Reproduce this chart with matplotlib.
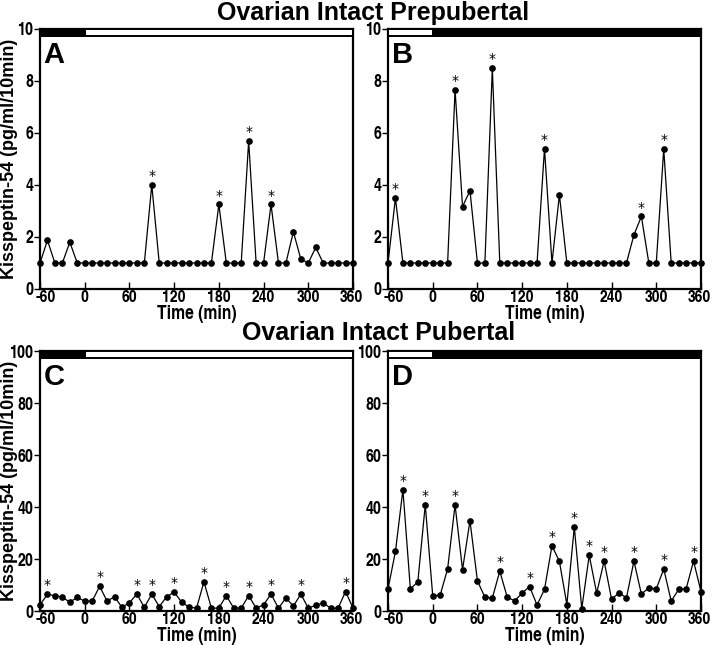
import matplotlib
matplotlib.use("Agg")
import matplotlib.pyplot as plt
import matplotlib.transforms as mtransforms
from matplotlib.patches import Rectangle
import numpy as np
import logging
logging.getLogger('matplotlib.font_manager').setLevel(logging.ERROR)

# ---------------- data ----------------
time_min = list(range(-60, 361, 10))
x_ticks = [-60, 0, 60, 120, 180, 240, 300, 360]
x_tick_labels = ['-60', '0', '60', '120', '180', '240', '300', '360']
top_yticks = [0, 2, 4, 6, 8, 10]
bot_yticks = [0, 20, 40, 60, 80, 100]

panel_a = [1.0, 1.87, 1, 1, 1.8, 1, 1, 1, 1, 1, 1, 1, 1, 1, 1, 4.0, 1, 1, 1, 1, 1, 1,
           1, 1, 3.25, 1, 1, 1, 5.69, 1, 1, 3.25, 1, 1, 2.2, 1.15, 1.0, 1.6, 1, 1, 1, 1, 1]
panel_a_pulses = [90, 180, 220, 250]

panel_b = [1, 3.5, 1, 1, 1, 1, 1, 1, 1, 7.66, 3.17, 3.78, 1, 1, 8.49, 1, 1, 1, 1, 1, 1,
           5.4, 1, 3.62, 1, 1, 1, 1, 1, 1, 1, 1, 1, 2.08, 2.79, 1, 1, 5.38, 1, 1, 1, 1, 1]
panel_b_pulses = [-50, 30, 80, 150, 280, 310]

panel_c = [2.4, 6.4, 5.9, 5.3, 3.4, 5.2, 3.8, 3.8, 9.5, 3.8, 5.5, 1.4, 3.2, 6.5, 1.4,
           6.5, 1.7, 5.5, 7.3, 3.4, 1.5, 1.1, 11.2, 1.1, 1.1, 5.9, 1.1, 1.1, 5.9, 1.1,
           2.4, 6.5, 1.1, 5.0, 1.9, 6.5, 1.1, 2.2, 3.1, 1.1, 1.1, 7.5, 1.1]
panel_c_pulses = [-50, 20, 70, 90, 120, 160, 190, 220, 250, 290, 350]

panel_d = [8.5, 22.9, 46.6, 8.5, 11.2, 40.8, 5.9, 6.1, 16.2, 40.8, 15.9, 34.7, 11.6,
           5.3, 5.0, 15.3, 5.3, 3.9, 6.9, 9.4, 2.3, 8.3, 25.1, 19.1, 2.5, 32.3, 0.9,
           21.4, 6.9, 19.2, 4.6, 6.9, 5.1, 19.2, 6.5, 8.9, 8.5, 16.2, 3.8, 8.3, 8.5,
           19.2, 7.5]
panel_d_pulses = [-40, -10, 30, 90, 130, 160, 190, 210, 230, 270, 310, 350]

title_top = "Ovarian Intact Prepubertal"
title_bottom = "Ovarian Intact Pubertal"
ylabel = "Kisspeptin-54 (pg/ml/10min)"
xlabel = "Time (min)"

# dark phase (black segment of the light/dark bar)
dark_ac = (-60, 0)
dark_bd = (0, 360)

# ---------------- style ----------------
COND = ['Nimbus Sans Narrow', 'TeX Gyre Heros Cn', 'Roboto Condensed',
        'Asap Condensed', 'Liberation Sans', 'DejaVu Sans']
REG = ['Liberation Sans', 'DejaVu Sans']
plt.rcParams['font.family'] = COND
plt.rcParams['font.weight'] = 'bold'
plt.rcParams['axes.unicode_minus'] = False

W, H = 714, 645
fig = plt.figure(figsize=(W / 100, H / 100), dpi=100)


def ax_at(left, top, right, bottom):
    return fig.add_axes([left / W, 1 - bottom / H, (right - left) / W, (bottom - top) / H])


def draw_panel(ax, values, pulses, ymax, yticks, letter, dark, show_ylabel):
    t = np.array(time_min)
    v = np.array(values)
    ax.plot(t, v, color='black', lw=0.9, marker='o', markersize=3.8,
            markerfacecolor='black', markeredgecolor='black', clip_on=False, zorder=3)
    for p in pulses:
        idx = time_min.index(p)
        ax.annotate('*', (p, values[idx]), xytext=(0, 3.5), textcoords='offset points',
                    ha='center', va='baseline', fontsize=10, family='DejaVu Sans',
                    fontweight='normal')
    ax.set_xlim(-60, 360)
    ax.set_ylim(0, ymax)
    ax.set_xticks(x_ticks)
    ax.set_xticklabels(x_tick_labels)
    ax.set_yticks(yticks)
    ax.tick_params(axis='x', direction='in', length=5, width=1, labelsize=12.2, pad=0.5)
    ax.tick_params(axis='y', direction='out', length=4, width=1, labelsize=12.5, pad=1)
    for lab in ax.get_xticklabels() + ax.get_yticklabels():
        lab.set_fontweight('bold')
    first = ax.get_xticklabels()[0]
    first.set_transform(first.get_transform() +
                        mtransforms.ScaledTranslation(6 / 100, 0, fig.dpi_scale_trans))
    last = ax.get_xticklabels()[-1]
    last.set_transform(last.get_transform() +
                       mtransforms.ScaledTranslation(-2 / 100, 0, fig.dpi_scale_trans))
    for s in ax.spines.values():
        s.set_linewidth(1.6)
    ax.set_xlabel(xlabel, fontsize=13.8, fontweight='bold')
    ax.xaxis.set_label_coords(0.5, -0.061)
    ax.xaxis.label.set_va('top')
    if show_ylabel:
        ax.set_ylabel(ylabel, fontsize=13, fontweight='bold', family=REG)
        ax.yaxis.set_label_coords(-0.097, 0.5)
        ax.yaxis.label.set_va('center')
    # light/dark bar
    bh = 0.028
    ax.add_patch(Rectangle((0, 1 - bh), 1, bh, transform=ax.transAxes,
                           facecolor='white', edgecolor='black', lw=1.4, zorder=4,
                           clip_on=False))
    x0 = (dark[0] + 60) / 420
    x1 = (dark[1] + 60) / 420
    ax.add_patch(Rectangle((x0, 1 - bh), x1 - x0, bh, transform=ax.transAxes,
                           facecolor='black', edgecolor='black', lw=1.4, zorder=5,
                           clip_on=False))
    ax.text(0.012, 0.955, letter, transform=ax.transAxes, fontsize=21,
            fontweight='bold', family=REG, ha='left', va='top')


ax_a = ax_at(40, 29, 353, 289)
ax_b = ax_at(388, 29, 701, 289)
ax_c = ax_at(40, 351, 353, 611)
ax_d = ax_at(388, 351, 701, 611)

draw_panel(ax_a, panel_a, panel_a_pulses, 10, top_yticks, 'A', dark_ac, True)
draw_panel(ax_b, panel_b, panel_b_pulses, 10, top_yticks, 'B', dark_bd, False)
draw_panel(ax_c, panel_c, panel_c_pulses, 100, bot_yticks, 'C', dark_ac, True)
draw_panel(ax_d, panel_d, panel_d_pulses, 100, bot_yticks, 'D', dark_bd, False)

fig.text(373 / W, 1 - 13 / H, title_top, ha='center', va='center', fontsize=18,
         fontweight='bold', family=REG)
fig.text(379 / W, 1 - 333 / H, title_bottom, ha='center', va='center', fontsize=18,
         fontweight='bold', family=REG)

fig.savefig('out.png', dpi=100)
